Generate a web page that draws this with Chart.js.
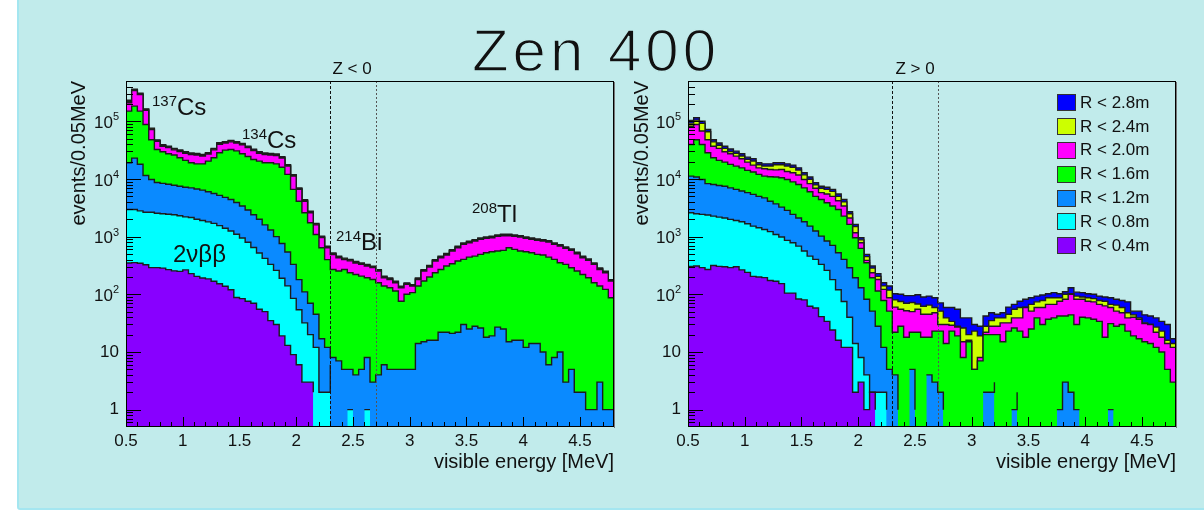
<!DOCTYPE html>
<html>
<head>
<meta charset="utf-8">
<title>Zen 400</title>
<script src="https://cdn.jsdelivr.net/npm/chart.js@4.4.1/dist/chart.umd.min.js"></script>
<style>
  html, body { margin: 0; padding: 0; background: #fff; }
  body { width: 1204px; height: 512px; position: relative; overflow: hidden;
         font-family: "Liberation Sans", Arial, Helvetica, sans-serif; color: #111; }
  #sheet { position: absolute; left: 17px; top: -4px; width: 1200px; height: 510px;
           background: #c1ebeb; border: 2px solid #a4e6f0; border-radius: 3px; }
  canvas { position: absolute; top: 0; }
  #cvLeft { left: 57px; }
  #cvRight { left: 620px; }
  #title { position: absolute; left: 396px; top: 21px; width: 400px; text-align: center;
           font-size: 60px; line-height: 60px; letter-spacing: 4px;
           -webkit-text-stroke: 1.4px #c1ebeb; }
  .note { position: absolute; font-size: 24px; line-height: 24px; white-space: nowrap; }
  .note sup { font-size: 15px; position: relative; top: -9px; vertical-align: baseline; }
  .zlab { position: absolute; width: 100px; text-align: center; font-size: 17px; line-height: 17px; top: 60px; }
  #legend { position: absolute; left: 1057px; top: 91px; }
  .row { display: flex; align-items: center; height: 23.8px; font-size: 17px; }
  .swatch { width: 17px; height: 15px; border: 1px solid #333; margin-right: 4px; }
</style>
</head>
<body>
<div id="sheet"></div>
<div id="title">Zen 400</div>
<canvas id="cvLeft" width="563" height="512"></canvas>
<canvas id="cvRight" width="584" height="512"></canvas>

<div class="note" style="left:152px; top:95px;"><sup>137</sup>Cs</div>
<div class="note" style="left:242px; top:128px;"><sup>134</sup>Cs</div>
<div class="note" style="left:336px; top:230px;"><sup>214</sup>Bi</div>
<div class="note" style="left:472px; top:202px;"><sup>208</sup>Tl</div>
<div class="note" style="left:173px; top:242px;">2νββ</div>
<div class="zlab" style="left:302px;">Z &lt; 0</div>
<div class="zlab" style="left:865px;">Z &gt; 0</div>
<div id="legend"></div>

<script>
// Visible energy histograms, 0.05 MeV bins from 0.5 to 4.8 MeV.
// Each series is cumulative in radius (R < r includes all smaller radii).
const binStart = 0.5;
const binWidth = 0.05;
const binCount = 86;

const seriesLabels = ['R < 0.4m', 'R < 0.8m', 'R < 1.2m', 'R < 1.6m', 'R < 2.0m', 'R < 2.4m', 'R < 2.8m'];
const seriesColors = ['#8800ff', '#00ffff', '#0a8aff', '#00ff00', '#ff00ff', '#ccff00', '#0000ff'];

const xTickValues = [0.5, 1, 1.5, 2, 2.5, 3, 3.5, 4, 4.5];
const yTickValues = [1, 10, 100, 1000, 10000, 100000];
const yTickBase = ['1', '10', '10', '10', '10', '10'];
const yTickExp = ['', '', '2', '3', '4', '5'];
const zCuts = [2.3, 2.7];

// ---- Z < 0 ----
const leftR04 = [
  350, 355, 345, 325, 290, 290, 285, 268, 255, 250,
  265, 228, 205, 192, 185, 168, 152, 138, 120, 88,
  84, 76, 70, 55, 50, 35, 30, 19, 13, 9,
  6, 3, 3, 2, 0, 0, 0, 0, 0, 0,
  1, 0, 0, 1, 0, 0, 0, 0, 0, 0,
  0, 0, 0, 0, 0, 0, 0, 0, 0, 0,
  0, 0, 0, 0, 0, 0, 0, 0, 0, 0,
  0, 0, 0, 0, 0, 0, 0, 0, 0, 0,
  0, 0, 0, 0, 0, 0];
const leftR08 = [
  2950, 2950, 2800, 2650, 2650, 2550, 2500, 2450, 2400, 2300,
  2200, 2150, 2000, 1900, 1800, 1700, 1550, 1400, 1250, 1100,
  950, 800, 650, 520, 420, 330, 260, 190, 140, 85,
  54, 32, 20, 12, 2, 2, 6, 0, 0, 1,
  1, 0, 1, 1, 0, 1, 0, 0, 0, 0,
  0, 0, 0, 1, 0, 0, 1, 0, 0, 1,
  0, 0, 0, 1, 0, 2, 0, 0, 0, 0,
  0, 0, 0, 0, 0, 0, 1, 0, 0, 0,
  0, 0, 1, 0, 0, 0];
const leftR12 = [
  19000, 23000, 18000, 11500, 9800, 8700, 8400, 8100, 7800, 7500,
  7200, 7000, 6700, 6400, 6000, 5600, 5200, 4800, 4400, 3900,
  3400, 2900, 2400, 2000, 1600, 1300, 1000, 760, 540, 330,
  180, 110, 70, 45, 17, 12, 8, 7, 5, 5,
  4, 5, 8, 3, 4, 6, 5, 5, 5, 5,
  5, 14, 15, 16, 16, 22, 22, 21, 22, 30,
  25, 28, 26, 18, 19, 27, 25, 15, 16, 16,
  12, 14, 14, 10, 6, 8, 10, 3, 5, 2,
  2, 1, 1, 3, 1, 1];
const leftR16 = [
  150000, 183000, 150000, 88000, 48000, 32500, 29600, 27300, 26000, 23300,
  21000, 19100, 18300, 18300, 20400, 23300, 28500, 31600, 32500, 30700,
  27300, 24500, 21800, 20400, 19100, 19100, 18300, 16000, 12000, 6600,
  4100, 2600, 1740, 1090, 640, 400, 270, 253, 270, 237,
  221, 207, 194, 181, 159, 139, 130, 114, 76, 100,
  107, 139, 170, 199, 237, 270, 309, 339, 377, 403,
  442, 460, 492, 526, 547, 562, 577, 642, 601, 562,
  547, 526, 492, 480, 442, 403, 353, 330, 289, 253,
  221, 194, 159, 139, 122, 87];
const leftR20 = [
  210000, 340000, 290000, 155000, 72000, 45000, 37000, 35000, 32000, 30000,
  28000, 26600, 26000, 25000, 27000, 32000, 40000, 42000, 44000, 42000,
  39000, 35000, 31000, 28000, 26600, 26000, 25600, 23000, 16700, 11200,
  6600, 4100, 2600, 1600, 960, 640, 490, 430, 400, 380,
  350, 330, 310, 290, 253, 194, 181, 159, 130, 149,
  139, 181, 253, 297, 377, 431, 480, 562, 642, 733,
  784, 838, 896, 932, 957, 1009, 1037, 1037, 1009, 984,
  932, 896, 861, 838, 805, 733, 687, 625, 577, 506,
  431, 387, 330, 270, 237, 170];
const leftR24 = [
  222000, 350000, 298000, 160000, 74000, 46300, 38100, 36000, 33000, 30900,
  28800, 27400, 26800, 25800, 27800, 33000, 41200, 43300, 45300, 43300,
  40200, 36000, 31900, 28800, 27400, 26800, 26400, 23700, 17200, 11500,
  6800, 4220, 2680, 1650, 990, 660, 505, 443, 412, 391,
  360, 340, 319, 299, 261, 200, 186, 164, 134, 153,
  143, 186, 261, 306, 388, 444, 494, 579, 661, 755,
  808, 863, 923, 960, 986, 1039, 1068, 1068, 1039, 1014,
  960, 923, 887, 863, 829, 755, 708, 644, 594, 521,
  444, 399, 340, 278, 244, 175];
const leftR28 = [
  232000, 360000, 306000, 164000, 76000, 47700, 39200, 37100, 33900, 31800,
  29700, 28200, 27600, 26500, 28600, 33900, 42400, 44500, 46600, 44500,
  41300, 37100, 32900, 29700, 28200, 27600, 27100, 24400, 17700, 11900,
  7000, 4350, 2760, 1700, 1020, 680, 520, 456, 424, 403,
  371, 350, 329, 307, 268, 206, 192, 169, 138, 158,
  147, 192, 268, 315, 400, 457, 509, 596, 681, 777,
  831, 888, 950, 988, 1014, 1070, 1099, 1099, 1070, 1043,
  988, 950, 913, 888, 853, 777, 728, 663, 612, 536,
  457, 410, 350, 286, 251, 180];

// ---- Z > 0 ----
const rightR04 = [
  305, 310, 290, 270, 315, 305, 300, 290, 300, 265,
  240, 205, 200, 195, 174, 168, 153, 105, 105, 83,
  80, 62, 58, 41, 34, 24, 16, 12, 12, 2,
  3, 1, 2, 1, 0, 1, 0, 0, 0, 0,
  0, 0, 0, 0, 0, 0, 0, 0, 0, 0,
  0, 0, 0, 0, 0, 0, 0, 0, 0, 0,
  0, 0, 0, 0, 0, 0, 0, 0, 0, 0,
  0, 0, 0, 0, 0, 0, 0, 0, 0, 0,
  0, 0, 0, 0, 0, 0];
const rightR08 = [
  2600, 2500, 2430, 2370, 2270, 2180, 2100, 1990, 1910, 1810,
  1670, 1520, 1430, 1330, 1220, 1090, 984, 861, 784, 686,
  562, 460, 403, 330, 260, 180, 120, 75, 40, 14,
  8, 4, 2, 2, 2, 1, 0, 0, 0, 2,
  0, 0, 0, 1, 0, 1, 0, 0, 0, 0,
  0, 0, 0, 2, 0, 0, 0, 0, 0, 0,
  0, 0, 0, 0, 0, 0, 0, 0, 0, 0,
  0, 0, 0, 0, 0, 0, 0, 0, 0, 0,
  0, 0, 0, 0, 0, 0];
const rightR12 = [
  11200, 10800, 9800, 8300, 8000, 7700, 7500, 7000, 6600, 6200,
  5800, 5400, 5000, 4700, 4100, 3700, 3250, 2850, 2430, 2100,
  1810, 1520, 1250, 1020, 838, 705, 526, 403, 289, 194,
  130, 82, 51, 28, 12, 5, 4, 1, 0, 5,
  1, 0, 4, 3, 2, 1, 0, 0, 2, 0,
  2, 0, 2, 2, 3, 0, 0, 1, 2, 0,
  0, 1, 0, 1, 0, 1, 3, 2, 1, 1,
  0, 0, 1, 0, 1, 1, 0, 0, 0, 0,
  0, 0, 0, 1, 0, 0];
const rightR16 = [
  39700, 48000, 39700, 28500, 23300, 21000, 19600, 17900, 16700, 15600,
  14100, 13200, 12000, 11200, 10900, 10800, 10500, 9800, 8900, 8000,
  7000, 6000, 5000, 4400, 3870, 3400, 2960, 2270, 1630, 957,
  625, 353, 194, 114, 78, 51, 22, 28, 18, 22,
  22, 18, 18, 23, 23, 14, 23, 19, 8, 15,
  5, 7, 20, 20, 20, 15, 23, 26, 23, 18,
  25, 39, 30, 37, 39, 42, 42, 44, 30, 40,
  39, 37, 34, 18, 31, 28, 30, 23, 19, 17,
  15, 14, 12, 10, 5, 3];
const rightR20 = [
  82000, 88000, 68000, 48000, 37000, 34000, 29600, 27300, 24900, 22400,
  19600, 17400, 15600, 15000, 14600, 14400, 14600, 13500, 12800, 11700,
  9800, 8300, 6900, 5800, 5500, 5000, 4200, 3400, 2100, 1170,
  784, 387, 237, 181, 122, 87, 60, 55, 52, 50,
  55, 45, 45, 48, 30, 30, 29, 27, 15, 16,
  5, 8, 22, 28, 28, 32, 32, 39, 39, 59,
  51, 59, 59, 67, 67, 76, 82, 100, 82, 82,
  76, 74, 67, 63, 59, 51, 48, 39, 40, 37,
  31, 30, 22, 18, 14, 12];
const rightR24 = [
  93000, 105000, 92000, 66000, 44000, 38500, 34000, 30000, 28000, 25000,
  22000, 20500, 17600, 16800, 16800, 17600, 17600, 16800, 16000, 14300,
  11800, 9900, 7900, 6900, 6600, 6100, 5000, 4000, 2500, 1500,
  880, 450, 285, 205, 140, 118, 80, 75, 70, 72,
  68, 62, 65, 59, 51, 39, 34, 28, 26, 20,
  23, 19, 28, 35, 39, 39, 45, 55, 59, 60,
  67, 74, 78, 87, 87, 87, 100, 102, 93, 90,
  87, 84, 78, 76, 67, 65, 59, 48, 44, 39,
  32, 30, 27, 23, 16, 14];
const rightR28 = [
  103000, 115000, 100000, 72000, 48000, 42000, 37000, 33000, 30400, 27300,
  23900, 22400, 19100, 18300, 18300, 19100, 19100, 18300, 17400, 15600,
  12800, 10800, 8600, 7500, 7200, 6600, 5500, 4400, 2700, 1630,
  957, 492, 309, 228, 159, 139, 102, 100, 95, 95,
  98, 90, 93, 87, 71, 59, 59, 55, 39, 39,
  30, 28, 42, 48, 45, 48, 60, 67, 76, 82,
  87, 93, 97, 102, 107, 102, 111, 130, 109, 107,
  102, 100, 93, 90, 87, 82, 78, 74, 51, 51,
  44, 42, 39, 34, 30, 17];

const FONT = '"Liberation Sans", Arial, Helvetica, sans-serif';
const binEdges = Array.from({ length: binCount + 1 }, (_, i) => +(binStart + binWidth * i).toFixed(2));

// one point per bin low edge, plus the closing edge, drawn as a step line
function histPoints(values) {
  const pts = values.map((v, i) => ({ x: binEdges[i], y: v }));
  pts.push({ x: binEdges[values.length], y: values[values.length - 1] });
  return pts;
}

// ROOT-style frame: inward ticks, exponent labels, cut lines
const rootFrame = {
  id: 'rootFrame',
  afterDatasetsDraw(chart) {
    const { ctx, chartArea: a, scales: { x, y } } = chart;
    ctx.save();

    zCuts.forEach((cut, i) => {
      const px = Math.round(x.getPixelForValue(cut)) + 0.5;
      ctx.strokeStyle = i === 0 ? '#111' : '#555';
      ctx.setLineDash(i === 0 ? [3, 2] : [2, 2]);
      ctx.lineWidth = 1;
      ctx.beginPath();
      ctx.moveTo(px, a.top);
      ctx.lineTo(px, a.bottom);
      ctx.stroke();
    });
    ctx.setLineDash([]);

    ctx.strokeStyle = '#000';
    ctx.lineWidth = 1;
    ctx.beginPath();
    for (let k = 5; k <= 48; k++) {
      const px = Math.round(x.getPixelForValue(k / 10)) + 0.5;
      const len = k % 5 === 0 ? 10 : 5;
      ctx.moveTo(px, a.bottom);
      ctx.lineTo(px, a.bottom - len);
    }
    for (let e = -1; e <= 5; e++) {
      for (let m = 1; m <= 9; m++) {
        const v = m * Math.pow(10, e);
        if (v <= y.min || v >= y.max) continue;
        const py = Math.round(y.getPixelForValue(v)) + 0.5;
        ctx.moveTo(a.left, py);
        ctx.lineTo(a.left + (m === 1 ? 15 : 7), py);
      }
    }
    ctx.stroke();

    ctx.strokeRect(a.left + 0.5, a.top + 0.5, a.width - 1, a.height - 1);
    ctx.strokeStyle = '#777';
    ctx.beginPath();
    ctx.moveTo(a.right + 0.5, a.top + 1);
    ctx.lineTo(a.right + 0.5, a.bottom + 1);
    ctx.stroke();

    ctx.fillStyle = '#111';
    ctx.textAlign = 'right';
    ctx.textBaseline = 'middle';
    const edge = a.left - 7;
    yTickValues.forEach((v, i) => {
      const py = y.getPixelForValue(v);
      let right = edge;
      if (yTickExp[i]) {
        ctx.font = '11px ' + FONT;
        ctx.fillText(yTickExp[i], right, py - 4);
        right -= ctx.measureText(yTickExp[i]).width;
        ctx.font = '17px ' + FONT;
        ctx.fillText(yTickBase[i], right, py + 2);
      } else {
        ctx.font = '17px ' + FONT;
        ctx.fillText(yTickBase[i], right, py);
      }
    });
    ctx.restore();
  }
};

function buildPanel(canvasId, series, rightPad, yWidth) {
  const datasets = seriesLabels.map((label, i) => ({
    label,
    data: histPoints(series[i]),
    stepped: true,
    fill: 'start',
    backgroundColor: seriesColors[i],
    borderColor: '#1c1c1c',
    borderWidth: 1.4,
    pointRadius: 0,
    pointHoverRadius: 0
  }));

  return new Chart(document.getElementById(canvasId), {
    type: 'line',
    data: { datasets },
    options: {
      responsive: false,
      animation: false,
      devicePixelRatio: 1,
      events: [],
      layout: { padding: { left: 0, right: rightPad, top: 81, bottom: 30 } },
      plugins: { legend: { display: false }, tooltip: { enabled: false } },
      scales: {
        x: {
          type: 'linear',
          min: binEdges[0],
          max: binEdges[binCount],
          grid: { display: false, drawTicks: false },
          border: { display: false },
          afterBuildTicks: (s) => { s.ticks = xTickValues.map(v => ({ value: v })); },
          afterFit: (s) => { s.height = 55; },
          ticks: {
            autoSkip: false, maxRotation: 0, padding: 4, color: '#111',
            font: { family: FONT, size: 17 },
            callback: (v) => String(v)
          },
          title: {
            display: true, text: 'visible energy [MeV]', align: 'end', color: '#111',
            font: { family: FONT, size: 20 }, padding: { top: 0, bottom: 8 }
          }
        },
        y: {
          type: 'logarithmic',
          min: 0.5,
          max: 500000,
          grid: { display: false, drawTicks: false },
          border: { display: false },
          ticks: { display: false },
          afterFit: (s) => { s.width = yWidth; },
          title: {
            display: true, text: 'events/0.05MeV', align: 'end', color: '#111',
            font: { family: FONT, size: 20 }, padding: { top: 10, bottom: 0 }
          }
        }
      }
    },
    plugins: [rootFrame]
  });
}

buildPanel('cvLeft', [leftR04, leftR08, leftR12, leftR16, leftR20, leftR24, leftR28], 6, 69);
buildPanel('cvRight', [rightR04, rightR08, rightR12, rightR16, rightR20, rightR24, rightR28], 28, 68);

// legend, largest radius first
const legend = document.getElementById('legend');
for (let i = seriesLabels.length - 1; i >= 0; i--) {
  const row = document.createElement('div');
  row.className = 'row';
  const sw = document.createElement('div');
  sw.className = 'swatch';
  sw.style.background = seriesColors[i];
  const txt = document.createElement('span');
  txt.textContent = seriesLabels[i];
  row.appendChild(sw);
  row.appendChild(txt);
  legend.appendChild(row);
}
</script>
</body>
</html>
